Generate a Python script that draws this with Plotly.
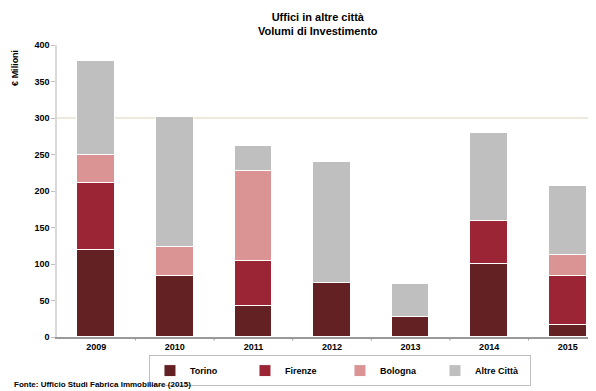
import plotly.graph_objects as go

years = ["2009", "2010", "2011", "2012", "2013", "2014", "2015"]
torino = [119, 83, 43, 74, 28, 100, 17]
firenze = [92, 0, 61, 0, 0, 59, 67]
bologna = [39, 40, 124, 0, 0, 0, 28]
altre = [128, 179, 34, 166, 45, 120, 95]

series = [
    ("Torino", torino, "#632123"),
    ("Firenze", firenze, "#9b2535"),
    ("Bologna", bologna, "#d99493"),
    ("Altre Città", altre, "#bfbfbf"),
]

font = "Liberation Sans"
fig = go.Figure()
xs = list(range(len(years)))
for name, vals, col in series:
    fig.add_trace(go.Bar(
        x=xs, y=vals, name="<b>%s</b>" % name, width=0.48,
        marker=dict(color=col, line=dict(color="white", width=1)),
    ))

fig.add_shape(type="line", xref="paper", yref="y", x0=0, x1=1, y0=300, y1=300,
              line=dict(color="#e8e3cf", width=1.5), layer="below")

fig.update_layout(
    width=588, height=383,
    margin=dict(l=49, r=0, t=37, b=54, autoexpand=False),
    barmode="stack",
    bargap=0,
    plot_bgcolor="white", paper_bgcolor="white",
    font=dict(family=font, size=9, color="black"),
    xaxis=dict(range=[-0.5, 6.36], tickmode="array", tickvals=xs,
               ticktext=["<b>%s</b>" % y for y in years],
               showline=True, linecolor="#999999", linewidth=1.5,
               showgrid=False, ticks="", zeroline=False,
               tickfont=dict(size=9)),
    yaxis=dict(range=[0, 400], dtick=50, showgrid=False, zeroline=False,
               showline=True, linecolor="#d9d9d9", linewidth=1.5,
               ticks="outside", ticklen=4, tickcolor="#bfbfbf",
               tickformat="d", tickfont=dict(size=9),
               tickprefix="<b>", ticksuffix="</b>"),
    legend=dict(orientation="h", x=0.525, xanchor="center", y=-0.062, yanchor="top",
                bordercolor="#bfbfbf", borderwidth=1, entrywidth=50,
                font=dict(size=9), traceorder="normal"),
    showlegend=True,
)

for i in range(len(years) - 1):
    fig.add_shape(type="line", xref="x", yref="paper", x0=i + 0.5, x1=i + 0.5,
                  y0=0, y1=-0.012, line=dict(color="#999999", width=1))

fig.add_annotation(text="<b>Uffici in altre città<br>Volumi di Investimento</b>",
                   xref="paper", yref="paper", x=0.484, y=1.123,
                   xanchor="center", yanchor="top", showarrow=False,
                   font=dict(size=11))
fig.add_annotation(text="<b>€ Milioni</b>", xref="paper", yref="paper",
                   x=-0.078, y=0.99, xanchor="center", yanchor="top",
                   textangle=-90, showarrow=False, font=dict(size=9))
fig.add_annotation(text="<b>Fonte: Ufficio Studi Fabrica Immobiliare (2015)</b>",
                   xref="paper", yref="paper", x=-0.0835, y=-0.164,
                   xanchor="left", yanchor="middle", showarrow=False,
                   font=dict(size=8))

fig.write_html("out.html")
